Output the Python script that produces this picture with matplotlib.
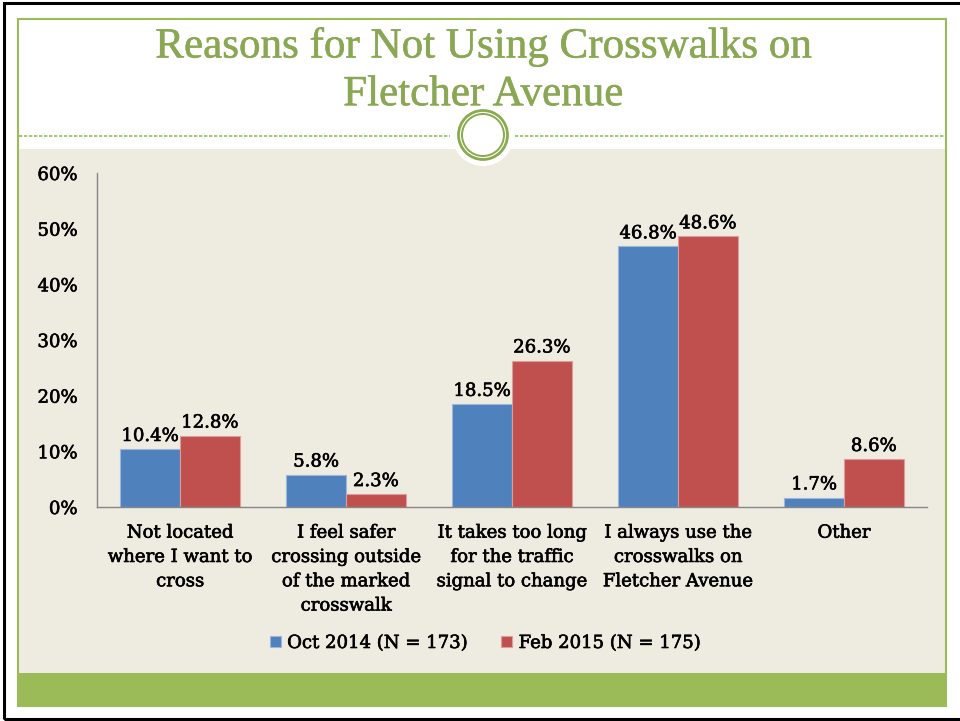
import numpy as np
import matplotlib.pyplot as plt
import matplotlib.patheffects as pe
from matplotlib.patches import Rectangle, Circle

# Survey results (percent)
categories = [
    "Not located\nwhere I want to\ncross",
    "I feel safer\ncrossing outside\nof the marked\ncrosswalk",
    "It takes too long\nfor the traffic\nsignal to change",
    "I always use the\ncrosswalks on\nFletcher Avenue",
    "Other",
]
oct_2014 = [10.4, 5.8, 18.5, 46.8, 1.7]
feb_2015 = [12.8, 2.3, 26.3, 48.6, 8.6]
series_names = ["Oct 2014 (N = 173)", "Feb 2015 (N = 175)"]
yticks = [0, 10, 20, 30, 40, 50, 60]

W, H = 960, 721
fig = plt.figure(figsize=(W / 100, H / 100), dpi=100)
fig.patch.set_facecolor("white")
tr = fig.dpi_scale_trans


def px(x, y):
    # pixel coords measured from top-left -> inches from bottom-left
    return x / 100, (H - y) / 100


green = "#9BBB59"
beige = "#EEEBE0"
heavy = [pe.withStroke(linewidth=0.45, foreground="black")]

# slide decoration (kept below the axes)
x0, y0 = px(4, 719)
fig.patches.append(Rectangle((x0, y0), 10, (719 - 3) / 100, transform=tr,
                             fill=False, ec="black", lw=2.2, zorder=-5))
x0, y0 = px(19, 673)
fig.patches.append(Rectangle((x0, y0), (946 - 19) / 100, (673 - 149) / 100,
                             transform=tr, fc=beige, ec="none", zorder=-5))
x0, y0 = px(18, 706)
fig.patches.append(Rectangle((x0, y0), (946 - 18) / 100, (706 - 673) / 100,
                             transform=tr, fc=green, ec="none", zorder=-5))
fig.lines.append(plt.Line2D([18 / 100, 946 / 100], [(H - 706) / 100] * 2,
                            transform=tr, color="#8BA84E", lw=1.2, zorder=-4))
x0, y0 = px(18, 706)
fig.patches.append(Rectangle((x0, y0), (946 - 18) / 100, (706 - 19) / 100,
                             transform=tr, fill=False, ec=green, lw=1.5, zorder=-4))
# dashed divider with a gap for the circle
for xa, xb in [(19, 450), (515, 945)]:
    fig.lines.append(plt.Line2D([xa / 100, xb / 100], [(H - 136) / 100] * 2,
                                transform=tr, color=green, lw=1.2,
                                dashes=(2, 1), zorder=-4))
cx, cy = px(483, 135)
fig.patches.append(Circle((cx, cy), 0.31, transform=tr, fc="white", ec="none", zorder=-3))
fig.patches.append(Circle((cx, cy), 0.245, transform=tr, fill=False, ec="#8AAA4E", lw=2.0, zorder=-2))
fig.patches.append(Circle((cx, cy), 0.21, transform=tr, fill=False, ec="#8AAA4E", lw=1.4, zorder=-2))

# title
title_kw = dict(ha="center", va="center", color="#8AA854",
                fontsize=31, family="Liberation Serif",
                path_effects=[pe.withStroke(linewidth=0.4, foreground="#8AA854")])
fig.text(483 / W, 1 - 47 / H, "Reasons for Not Using Crosswalks on", **title_kw)
fig.text(483 / W, 1 - 95 / H, "Fletcher Avenue", **title_kw)

# chart
ax = fig.add_axes([97 / W, 1 - 507 / H, (927 - 97) / W, (507 - 173) / H])
ax.patch.set_alpha(0)

x = np.arange(len(categories))
bw = 0.36
b1 = ax.bar(x - bw / 2, oct_2014, bw, color="#4F81BD", edgecolor="#9DB7DA",
            lw=0.8, label=series_names[0])
b2 = ax.bar(x + bw / 2, feb_2015, bw, color="#C0504D", edgecolor="#DE9C9A",
            lw=0.8, label=series_names[1])

lab_kw = dict(fontsize=13, family="DejaVu Serif", color="black", path_effects=heavy)
for bars, vals in [(b1, oct_2014), (b2, feb_2015)]:
    for rect, v in zip(bars, vals):
        ax.annotate(f"{v:.1f}%", (rect.get_x() + rect.get_width() / 2, v),
                    xytext=(0, 3), textcoords="offset points",
                    ha="center", va="bottom", **lab_kw)

ax.set_xlim(-0.5, len(categories) - 0.5)
ax.set_ylim(0, 60)
ax.set_yticks(yticks)
ax.set_yticklabels([f"{t}%" for t in yticks], fontsize=13, family="DejaVu Serif")
ax.set_xticks(x)
ax.set_xticklabels(categories, fontsize=13, family="DejaVu Serif",
                   linespacing=1.45, va="top")
ax.tick_params(axis="y", length=0, pad=14)
ax.tick_params(axis="x", length=0, pad=12)
for t in ax.get_xticklabels() + ax.get_yticklabels():
    t.set_path_effects(heavy)

for s in ["top", "right"]:
    ax.spines[s].set_visible(False)
for s in ["left", "bottom"]:
    ax.spines[s].set_color("#868686")
    ax.spines[s].set_linewidth(1)

leg = ax.legend(loc="center", bbox_to_anchor=(485 / W, 1 - 643 / H),
                bbox_transform=fig.transFigure, ncol=2, frameon=False,
                handlelength=0.6, handleheight=0.6, handletextpad=0.35,
                columnspacing=1.9, prop={"family": "DejaVu Serif", "size": 13})
for t in leg.get_texts():
    t.set_path_effects(heavy)

fig.savefig("out.png", dpi=100)
